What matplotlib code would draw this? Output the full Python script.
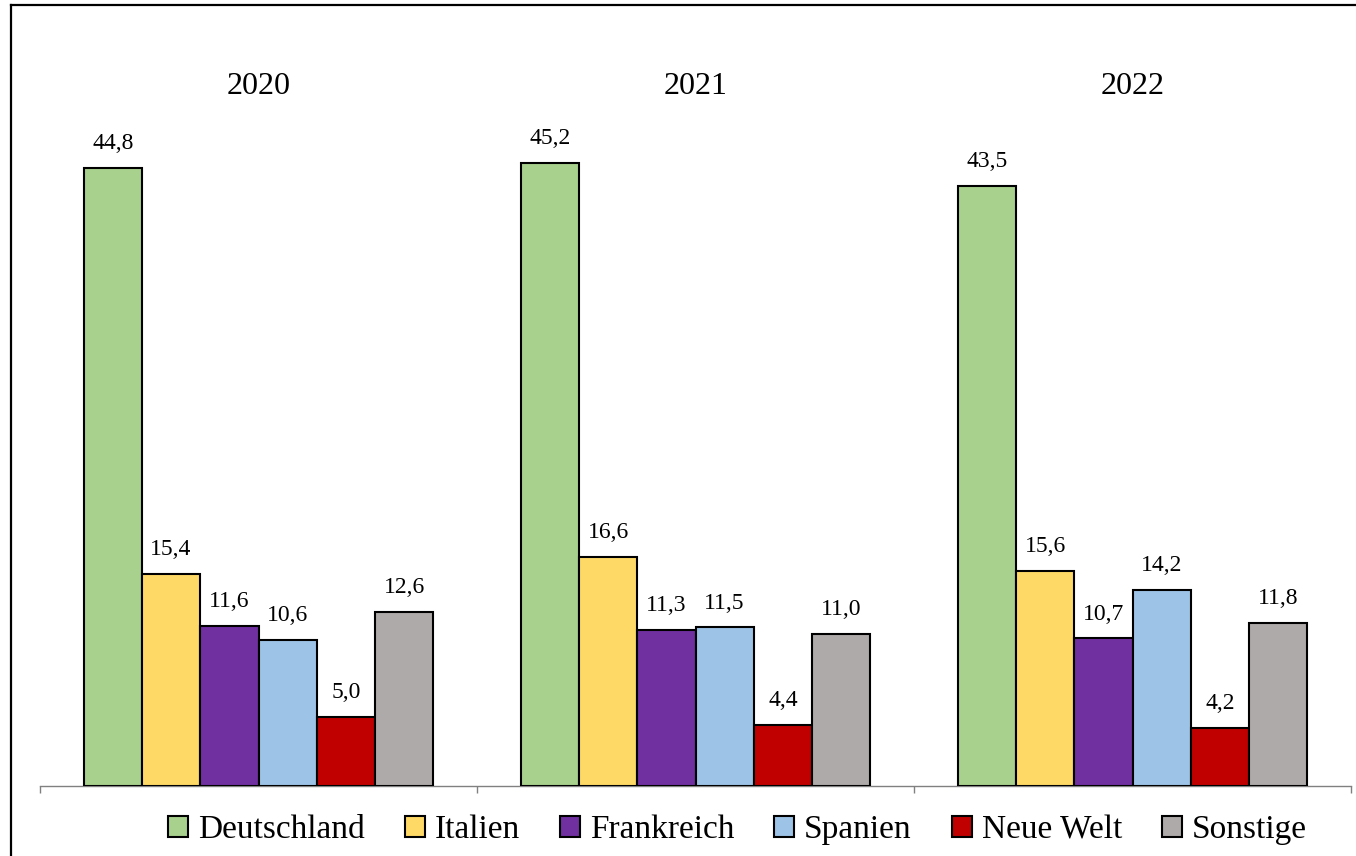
import matplotlib
matplotlib.use("Agg")
import matplotlib.pyplot as plt
import matplotlib.transforms as mtransforms
from matplotlib.lines import Line2D
from matplotlib.patches import Patch
import numpy as np

years = ["2020", "2021", "2022"]
origins = ["Deutschland", "Italien", "Frankreich", "Spanien", "Neue Welt", "Sonstige"]
deutschland = [44.8, 45.2, 43.5]
italien = [15.4, 16.6, 15.6]
frankreich = [11.6, 11.3, 10.7]
spanien = [10.6, 11.5, 14.2]
neue_welt = [5.0, 4.4, 4.2]
sonstige = [12.6, 11.0, 11.8]

series = [deutschland, italien, frankreich, spanien, neue_welt, sonstige]
colors = ["#A9D18E", "#FFD966", "#7030A0", "#9DC3E6", "#C00000", "#AEAAAA"]

plt.rcParams["font.family"] = ["Liberation Serif", "DejaVu Serif"]

W, H = 1356, 856
fig = plt.figure(figsize=(W / 100, H / 100), dpi=100)

left, right = 40 / W, 1351 / W
bottom, top = 1 - 786 / H, 1 - 5 / H
ax = fig.add_axes([left, bottom, right - left, top - bottom])

n = len(origins)
group_w = 0.8
bar_w = group_w / n
x = np.arange(len(years))

for k, (vals, col) in enumerate(zip(series, colors)):
    pos = x - group_w / 2 + bar_w * (k + 0.5)
    bars = ax.bar(pos, vals, width=bar_w, color=col, edgecolor="black",
                  linewidth=1.5, zorder=3)
    for b, v in zip(bars, vals):
        ax.annotate(f"{v:.1f}".replace(".", ","),
                    xy=(b.get_x() + b.get_width() / 2, v),
                    xytext=(0, 10), textcoords="offset points",
                    ha="center", va="bottom", fontsize=17)

ax.set_xlim(-0.5, len(years) - 0.5)
ax.set_ylim(0, (786 - 5) / 13.79)

# group titles above each cluster
trans = mtransforms.blended_transform_factory(ax.transData, ax.transAxes)
for i, yr in enumerate(years):
    ax.text(i, (786 - 87) / 781, yr, transform=trans, ha="center",
            va="center", fontsize=23)

for s in ["left", "right", "top"]:
    ax.spines[s].set_visible(False)
ax.spines["bottom"].set_color("#808080")
ax.spines["bottom"].set_linewidth(1.0)
ax.set_yticks([])
ax.set_xticks(np.arange(-0.5, len(years), 1.0))
ax.set_xticklabels([])
ax.tick_params(axis="x", direction="out", length=5, width=1.0, color="#808080")

handles = [Patch(facecolor=c, edgecolor="black", linewidth=1.5) for c in colors]
fig.legend(handles, origins, loc="center", bbox_to_anchor=(737.5 / W, 1 - 830 / H),
           ncol=n, frameon=False, fontsize=24, handlelength=0.6,
           handleheight=0.6, handletextpad=0.3, columnspacing=1.2,
           borderpad=0, borderaxespad=0)

# outer frame (top and left edges)
fig.add_artist(Line2D([11 / W, 1.0], [1 - 5 / H, 1 - 5 / H], color="black",
                      linewidth=1.6, transform=fig.transFigure))
fig.add_artist(Line2D([11 / W, 11 / W], [0.0, 1 - 5 / H], color="black",
                      linewidth=1.6, transform=fig.transFigure))

fig.savefig("out.png", dpi=100, facecolor="white")
